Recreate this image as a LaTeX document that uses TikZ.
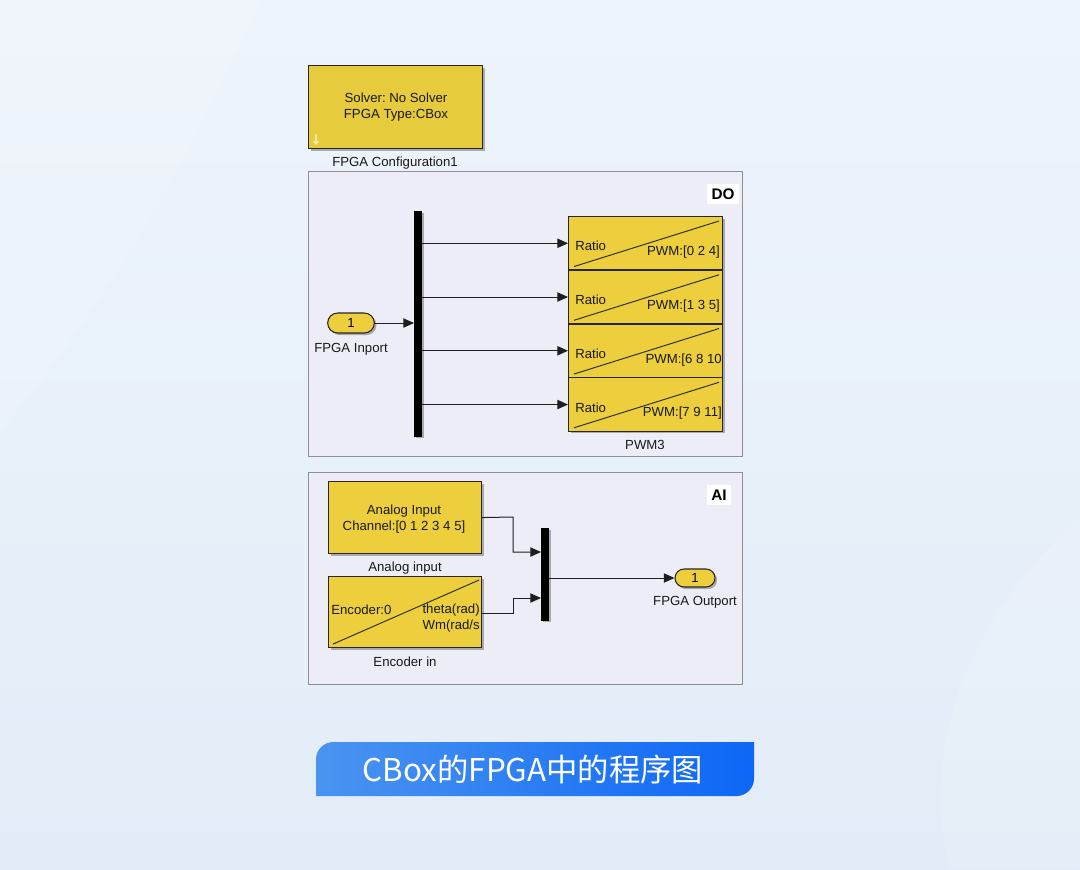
\documentclass[tikz,border=0pt]{standalone}
\usepackage{fontspec}
\setmainfont{Liberation Sans}
\newfontfamily\cjkfont{Noto Sans CJK SC}
\frenchspacing
\usetikzlibrary{arrows.meta,shadows,shapes.misc,calc}
\definecolor{yel}{HTML}{EDCF3D}
\definecolor{yelc}{HTML}{E6CB3C}
\definecolor{panel}{HTML}{EDEDF7}
\definecolor{pborder}{HTML}{8E8E96}
\definecolor{wire}{HTML}{1E1E1E}
\definecolor{bgtop}{HTML}{EEF4FB}
\definecolor{bgbot}{HTML}{E2ECF8}
\definecolor{bnl}{HTML}{4A94F0}
\definecolor{bnr}{HTML}{0D67F6}
\tikzset{
  x=0.75pt, y=-0.75pt,
  txt/.style={font=\fontsize{9.9}{12}\selectfont, inner sep=0pt, text=black!90, yshift=-1.5pt},
  shad/.style={drop shadow={shadow xshift=1.6pt, shadow yshift=-1.6pt, fill=black!55, opacity=0.55}},
  blk/.style={draw=black!85, fill=yel, line width=0.8pt, shad, anchor=north west, inner sep=0pt},
  pwmblk/.style={blk, minimum width=115.5pt, minimum height=40.1pt},
  port/.style={rounded rectangle, draw=black!85, fill=yel, line width=0.8pt, shad, inner sep=0pt,
     minimum width=35pt, minimum height=15pt, font=\fontsize{9.9}{11}\selectfont},
  busbar/.style={fill=black, draw=black, inner sep=0pt, anchor=north west, minimum width=5.5pt, shad},
  panelbox/.style={draw=pborder, fill=panel, line width=0.7pt, anchor=north west, inner sep=0pt},
  tag/.style={fill=white, inner sep=3.5pt, font=\fontsize{11.5}{12}\bfseries\selectfont},
  arr/.style={draw=wire, line width=0.75pt, -{Triangle[length=8pt,width=7pt]}},
  diag/.style={draw=black!80, line width=0.75pt},
}
\begin{document}
\begin{tikzpicture}
\useasboundingbox (0,0) rectangle (1080,869);
\shade[top color=bgtop, bottom color=bgbot] (0,0) rectangle (1080,869);
\fill[white, opacity=0.12] (1080,520) .. controls (960,620) and (920,760) .. (950,869) -- (1080,869) -- cycle;
\fill[white, opacity=0.15] (0,0) -- (260,0) .. controls (180,180) and (90,330) .. (0,430) -- cycle;

% FPGA configuration block
\node[blk, minimum width=130.5pt, minimum height=62.25pt, fill=yelc] (cfg) at (308,65) {};
\node[txt, align=center] (cfgtxt) at (396,105) {Solver: No Solver\\FPGA Type:CBox};
\draw[draw=yel!50!white, line width=1.6pt, -{Triangle[length=3pt,width=5pt]}] (316,134) -- (316,145);
\node[txt] (cfglab) at (395,161) {FPGA Configuration1};

% DO panel
\node[panelbox, minimum width=325.5pt, minimum height=213.75pt] (dopanel) at (308,171) {};
\node[tag] (dotag) at (723,194) {DO};
\node[busbar, minimum height=168.75pt] (bus1) at (414,211) {};
\node[port] (inp) at (351,323) {1};
\node[txt] (inplab) at (351,347) {FPGA Inport};
\draw[arr] (inp.east) -- (inp.east -| bus1.west);

\node[pwmblk] (pwm1) at (568,216) {};
\node[pwmblk] (pwm2) at (568,269.75) {};
\node[pwmblk] (pwm3) at (568,323.5) {};
\node[pwmblk] (pwm4) at (568,377.25) {};
\foreach \i/\lab/\dx in {1/{PWM:[0 2 4]}/-3, 2/{PWM:[1 3 5]}/-3, 3/{PWM:[6 8 10}/-1, 4/{PWM:[7 9 11]}/-1}{
  \draw[diag] ($(pwm\i.south west)+(6,-4)$) -- ($(pwm\i.north east)+(-4,5)$);
  \node[txt, anchor=west] (ratio\i) at ($(pwm\i.west)+(7,1)$) {Ratio};
  \node[txt, anchor=east] (pwmt\i) at ($(pwm\i.east)+(\dx,7)$) {\lab};
  \draw[arr] (bus1.east |- pwm\i.west) -- (pwm\i.west);
}
\node[txt] (pwmlab) at (645,443) {PWM3};

% AI panel
\node[panelbox, minimum width=325.5pt, minimum height=159pt] (aipanel) at (308,472) {};
\node[tag] (aitag) at (719,495) {AI};
\node[blk, minimum width=114.75pt, minimum height=54pt] (ain) at (328,481) {};
\node[txt, align=center] (aintxt) at (404,517) {Analog Input\\Channel:[0 1 2 3 4 5]};
\node[txt] (ainlab) at (405,566) {Analog input};
\node[blk, minimum width=114.75pt, minimum height=53.25pt] (enc) at (328,576) {};
\draw[diag] ($(enc.south west)+(5,-4)$) -- ($(enc.north east)+(-3,4)$);
\node[txt, anchor=west] (enct) at (331,608) {Encoder:0};
\node[txt, anchor=east] (encth) at (480,608) {theta(rad)};
\node[txt, anchor=east] (encwm) at (480,624) {Wm(rad/s};
\node[txt] (enclab) at (405,660) {Encoder in};
\node[busbar, minimum height=69pt] (mux) at (541,528) {};
\node[port, minimum width=30pt, minimum height=13.5pt] (outp) at (695,578) {1};
\node[txt] (outlab) at (695,600) {FPGA Outport};
\coordinate (c1) at (513,517);
\coordinate (c2) at (513,613);
\draw[arr] (ain.east) -- (c1) -- (c1 |- 0,552) -- (mux.west |- 0,552);
\draw[arr] (ain.east |- c2) -- (c2) -- (c2 |- 0,598) -- (mux.west |- 0,598);
\draw[arr] (mux.east |- 0,578) -- (outp.west);

% banner
\shade[left color=bnl, right color=bnr] (316,796) [rounded corners=13pt] -- (316,742) [sharp corners] -- (754,742) [rounded corners=13pt] -- (754,796) [sharp corners] -- cycle;
\node[text=white, font=\cjkfont\fontsize{23.5}{26}\selectfont, inner sep=0pt] (banner) at (533,770) {CBox的FPGA中的程序图};
\end{tikzpicture}
\end{document}
